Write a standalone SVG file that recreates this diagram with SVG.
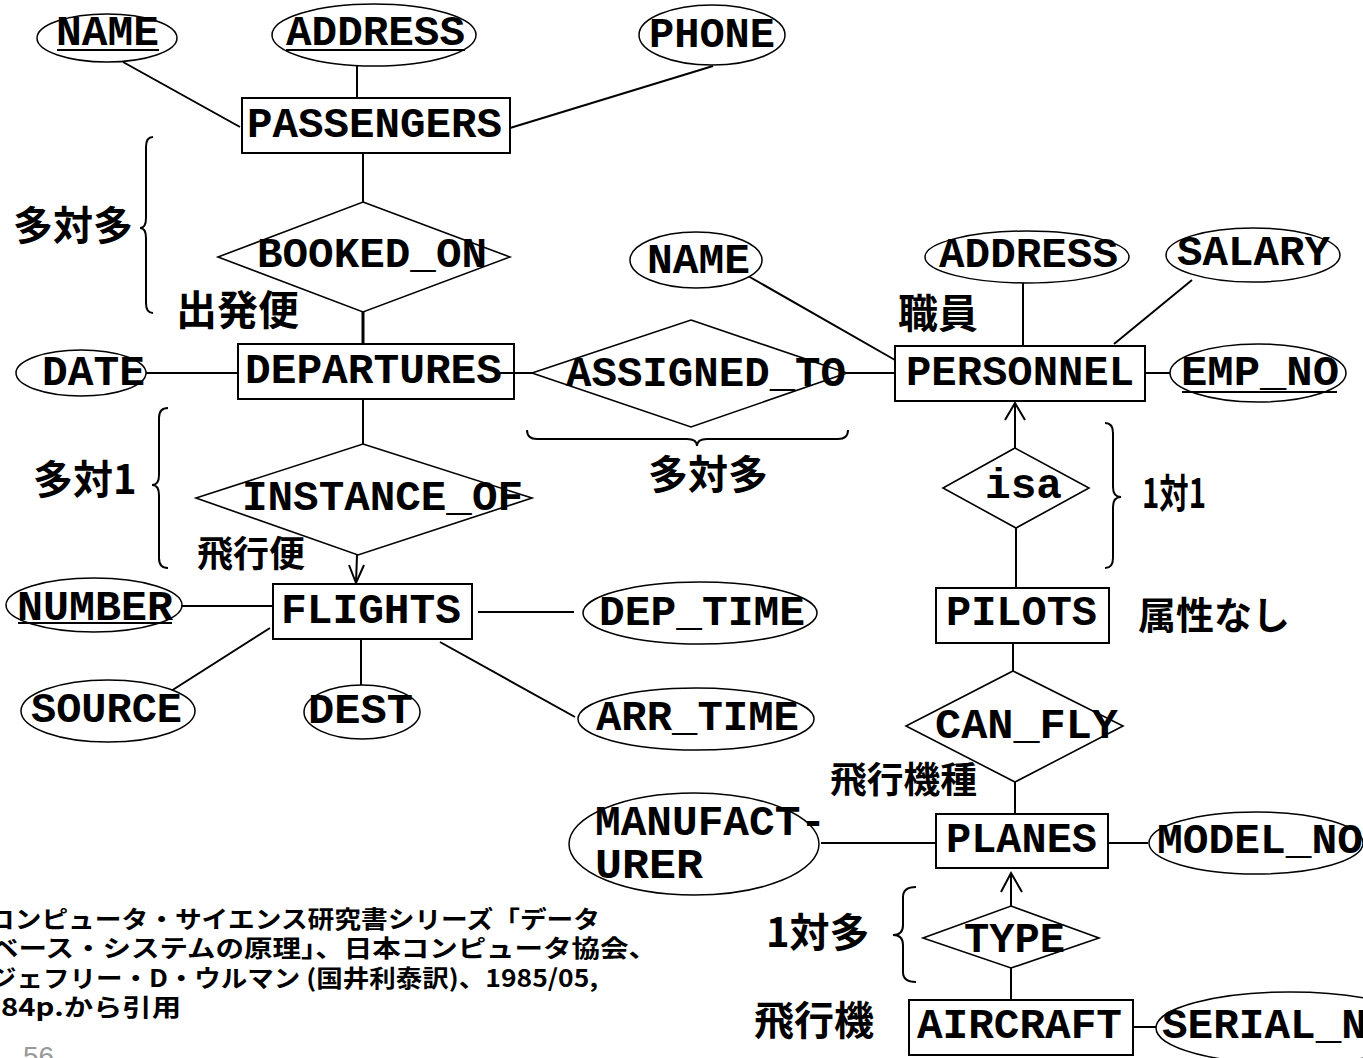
<svg xmlns="http://www.w3.org/2000/svg" width="1363" height="1058" viewBox="0 0 1363 1058">
<style>
.bg{fill:#fff}
.ent{fill:#fff;stroke:#000;stroke-width:2}
.att{fill:#fff;stroke:#000;stroke-width:1.5}
.rel{fill:#fff;stroke:#000;stroke-width:1.6}
.ln{stroke:#000;stroke-width:2;fill:none}
.br{stroke:#000;stroke-width:2;fill:none}
.t{font-family:"Liberation Mono","Courier New",monospace;font-weight:bold;font-size:42px;fill:#000}
.j{font-family:"Noto Sans CJK JP",sans-serif;font-weight:bold;fill:#000}
.c{font-family:"Noto Sans CJK JP",sans-serif;font-weight:bold;font-size:24px;fill:#000}
.ul{stroke:#000;stroke-width:2}
</style>
<rect class="bg" x="0" y="0" width="1363" height="1058"/>
<text x="23" y="1066" style="font-family:'Liberation Sans',sans-serif;font-size:28px;fill:#999">56</text>

<g id="connectors">
<line class="ln" x1="123" y1="62" x2="240" y2="127"/>
<line class="ln" x1="357" y1="66" x2="357" y2="98"/>
<line class="ln" x1="713" y1="66" x2="510" y2="128"/>
<line class="ln" x1="363" y1="153" x2="363" y2="202"/>
<line class="ln" x1="363" y1="312" x2="363" y2="344" style="stroke-width:3"/>
<line class="ln" x1="146" y1="373" x2="238" y2="373"/>
<line class="ln" x1="845" y1="373" x2="895" y2="373"/>
<line class="ln" x1="748" y1="276" x2="895" y2="360"/>
<line class="ln" x1="1023" y1="283" x2="1023" y2="346"/>
<line class="ln" x1="1192" y1="280" x2="1114" y2="344"/>
<line class="ln" x1="1145" y1="373" x2="1170" y2="373"/>
<line class="ln" x1="363" y1="399" x2="363" y2="444"/>
<line class="ln" x1="357" y1="555" x2="356" y2="583"/>
<polyline class="ln" points="349,565 356,583 364,565"/>
<line class="ln" x1="181" y1="606" x2="273" y2="606"/>
<line class="ln" x1="270" y1="628" x2="171" y2="691"/>
<line class="ln" x1="361" y1="639" x2="361" y2="685"/>
<line class="ln" x1="478" y1="612" x2="574" y2="612"/>
<line class="ln" x1="440" y1="642" x2="575" y2="717"/>
<line class="ln" x1="1015" y1="448" x2="1015" y2="403"/>
<polyline class="ln" points="1005,420 1015,403 1025,420"/>
<line class="ln" x1="1016" y1="528" x2="1016" y2="588"/>
<line class="ln" x1="1013" y1="643" x2="1013" y2="671"/>
<line class="ln" x1="1015" y1="782" x2="1015" y2="814"/>
<line class="ln" x1="821" y1="843" x2="936" y2="843"/>
<line class="ln" x1="1108" y1="843" x2="1148" y2="843"/>
<line class="ln" x1="1011" y1="906" x2="1011" y2="873"/>
<polyline class="ln" points="1001,892 1011,873 1022,892"/>
<line class="ln" x1="1011" y1="968" x2="1011" y2="1000"/>
<line class="ln" x1="1133" y1="1027" x2="1156" y2="1027"/>
</g>

<g id="PASSENGERS"><rect class="ent" x="242" y="98" width="268" height="55"/><text class="t" x="247" y="137" textLength="255" lengthAdjust="spacingAndGlyphs">PASSENGERS</text></g>
<g id="NAME_P"><ellipse class="att" cx="107" cy="38" rx="70" ry="24"/><text class="t" x="56" y="45" textLength="103" lengthAdjust="spacingAndGlyphs">NAME</text><line class="ul" x1="57" y1="50" x2="159" y2="50"/></g>
<g id="ADDRESS_P"><ellipse class="att" cx="374" cy="35" rx="102" ry="31"/><text class="t" x="286" y="45" textLength="179" lengthAdjust="spacingAndGlyphs">ADDRESS</text><line class="ul" x1="286" y1="50" x2="465" y2="50"/></g>
<g id="PHONE"><ellipse class="att" cx="712" cy="35" rx="73" ry="30"/><text class="t" x="649" y="47" textLength="126" lengthAdjust="spacingAndGlyphs">PHONE</text></g>

<g id="BOOKED_ON"><polygon class="rel" points="363,202 510,257 363,312 218,257"/><text class="t" x="257" y="267" textLength="230" lengthAdjust="spacingAndGlyphs">BOOKED_ON</text></g>

<g id="DEPARTURES"><rect class="ent" x="238" y="344" width="276" height="55"/><text class="t" x="245" y="383" textLength="257" lengthAdjust="spacingAndGlyphs">DEPARTURES</text></g>
<line class="ln" x1="500" y1="373" x2="532" y2="373"/>
<g id="DATE"><ellipse class="att" cx="81" cy="373" rx="65" ry="23"/><text class="t" x="42" y="385" textLength="103" lengthAdjust="spacingAndGlyphs">DATE</text></g>

<g id="ASSIGNED_TO"><polygon class="rel" points="691,320 847,373 691,427 532,373"/><text class="t" x="566" y="386" textLength="280" lengthAdjust="spacingAndGlyphs">ASSIGNED_TO</text></g>

<g id="PERSONNEL"><rect class="ent" x="895" y="346" width="250" height="55"/><text class="t" x="906" y="385" textLength="228" lengthAdjust="spacingAndGlyphs">PERSONNEL</text></g>
<g id="NAME_E"><ellipse class="att" cx="696" cy="260" rx="66" ry="28"/><text class="t" x="647" y="273" textLength="103" lengthAdjust="spacingAndGlyphs">NAME</text></g>
<g id="ADDRESS_E"><ellipse class="att" cx="1027" cy="257" rx="102" ry="26"/><text class="t" x="939" y="267" textLength="179" lengthAdjust="spacingAndGlyphs">ADDRESS</text></g>
<g id="SALARY"><ellipse class="att" cx="1253" cy="255" rx="87" ry="27"/><text class="t" x="1177" y="265" textLength="153" lengthAdjust="spacingAndGlyphs">SALARY</text></g>
<g id="EMP_NO"><ellipse class="att" cx="1258" cy="373" rx="88" ry="29"/><text class="t" x="1181" y="385" textLength="158" lengthAdjust="spacingAndGlyphs">EMP_NO</text><line class="ul" x1="1182" y1="392" x2="1337" y2="392"/></g>

<g id="INSTANCE_OF"><polygon class="rel" points="363,444 532,498 358,555 196,498"/><text class="t" x="242" y="510" textLength="281" lengthAdjust="spacingAndGlyphs">INSTANCE_OF</text></g>

<g id="FLIGHTS"><rect class="ent" x="273" y="584" width="199" height="55"/><text class="t" x="281" y="623" textLength="180" lengthAdjust="spacingAndGlyphs">FLIGHTS</text></g>
<g id="NUMBER"><ellipse class="att" cx="94" cy="605" rx="88" ry="27"/><text class="t" x="17" y="620" textLength="156" lengthAdjust="spacingAndGlyphs">NUMBER</text><line class="ul" x1="18" y1="623" x2="172" y2="623"/></g>
<g id="SOURCE"><ellipse class="att" cx="108" cy="711" rx="87" ry="31"/><text class="t" x="31" y="722" textLength="151" lengthAdjust="spacingAndGlyphs">SOURCE</text></g>
<g id="DEST"><ellipse class="att" cx="362" cy="712" rx="58" ry="27"/><text class="t" x="308" y="723" textLength="105" lengthAdjust="spacingAndGlyphs">DEST</text></g>
<g id="DEP_TIME"><ellipse class="att" cx="700" cy="613" rx="117" ry="31"/><text class="t" x="599" y="625" textLength="206" lengthAdjust="spacingAndGlyphs">DEP_TIME</text></g>
<g id="ARR_TIME"><ellipse class="att" cx="696" cy="719" rx="118" ry="31"/><text class="t" x="596" y="730" textLength="203" lengthAdjust="spacingAndGlyphs">ARR_TIME</text></g>

<g id="isa"><polygon class="rel" points="1015,448 1089,488 1016,528 943,488"/><text class="t" x="985" y="498" textLength="77" lengthAdjust="spacingAndGlyphs">isa</text></g>
<g id="PILOTS"><rect class="ent" x="936" y="588" width="173" height="55"/><text class="t" x="946" y="625" textLength="151" lengthAdjust="spacingAndGlyphs">PILOTS</text></g>
<g id="CAN_FLY"><polygon class="rel" points="1013,671 1123,726 1015,782 906,726"/><text class="t" x="935" y="738" textLength="183" lengthAdjust="spacingAndGlyphs">CAN_FLY</text></g>
<g id="PLANES"><rect class="ent" x="936" y="814" width="172" height="54"/><text class="t" x="946" y="852" textLength="151" lengthAdjust="spacingAndGlyphs">PLANES</text></g>
<g id="MANUFACTURER"><ellipse class="att" cx="694" cy="844" rx="125" ry="51"/><text class="t" x="595" y="835" textLength="231" lengthAdjust="spacingAndGlyphs">MANUFACT-</text><text class="t" x="595" y="878" textLength="108" lengthAdjust="spacingAndGlyphs">URER</text></g>
<g id="MODEL_NO"><ellipse class="att" cx="1256" cy="843" rx="107" ry="31"/><text class="t" x="1157" y="853" textLength="206" lengthAdjust="spacingAndGlyphs">MODEL_NO</text></g>
<g id="TYPE"><polygon class="rel" points="1011,906 1099,938 1011,968 923,938"/><text class="t" x="964" y="952" textLength="101" lengthAdjust="spacingAndGlyphs">TYPE</text></g>
<g id="AIRCRAFT"><rect class="ent" x="909" y="1000" width="224" height="55"/><text class="t" x="917" y="1038" textLength="205" lengthAdjust="spacingAndGlyphs">AIRCRAFT</text></g>
<g id="SERIAL_NO"><ellipse class="att" cx="1290" cy="1028" rx="134" ry="36"/><text class="t" x="1162" y="1038" textLength="205" lengthAdjust="spacingAndGlyphs">SERIAL_N</text></g>

<g id="braces">
<path class="br" d="M153,137 Q146,137 146,147 L146,218 Q146,228 140,228 Q146,228 146,238 L146,303 Q146,313 153,313"/>
<path class="br" d="M168,408 Q159,408 159,418 L159,475 Q159,485 152,485 Q159,485 159,495 L159,558 Q159,568 168,568"/>
<path class="br" d="M527,430 Q527,439 537,439 L687,439 Q697,439 697,446 Q697,439 707,439 L838,439 Q848,439 848,430"/>
<path class="br" d="M1105,423 Q1113,423 1113,433 L1113,487 Q1113,497 1121,497 Q1113,497 1113,507 L1113,558 Q1113,568 1105,568"/>
<path class="br" d="M916,887 Q903,887 903,897 L903,925 Q903,935 893,935 Q903,935 903,945 L903,972 Q903,982 916,982"/>
</g>

<g id="labels">
<text class="j" x="13" y="240" style="font-size:40px">多対多</text>
<text class="j" x="176" y="325" style="font-size:41px">出発便</text>
<text class="j" x="898" y="328" style="font-size:40px">職員</text>
<text class="j" x="648" y="489" style="font-size:40px">多対多</text>
<text class="j" x="33" y="494" style="font-size:40px">多対1</text>
<text class="j" x="197" y="567" style="font-size:36px">飛行便</text>
<text class="j" x="1142" y="508" style="font-size:40px" textLength="64" lengthAdjust="spacingAndGlyphs">1対1</text>
<text class="j" x="1138" y="629" style="font-size:38px">属性なし</text>
<text class="j" x="830" y="793" style="font-size:36px" textLength="147" lengthAdjust="spacingAndGlyphs">飛行機種</text>
<text class="j" x="766" y="947" style="font-size:40px">1対多</text>
<text class="j" x="754" y="1035" style="font-size:40px">飛行機</text>
</g>

<g id="citation">
<text class="c" x="-12" y="928" textLength="612" lengthAdjust="spacingAndGlyphs">コンピュータ・サイエンス研究書シリーズ「データ</text>
<text class="c" x="-10" y="957" textLength="667" lengthAdjust="spacingAndGlyphs">ベース・システムの原理」、日本コンピュータ協会、</text>
<text class="c" x="-10" y="987" textLength="608" lengthAdjust="spacingAndGlyphs">ジェフリー・D・ウルマン (国井利泰訳)、1985/05,</text>
<text class="c" x="1" y="1016" textLength="180" lengthAdjust="spacingAndGlyphs">84p.から引用</text>
</g>
</svg>
